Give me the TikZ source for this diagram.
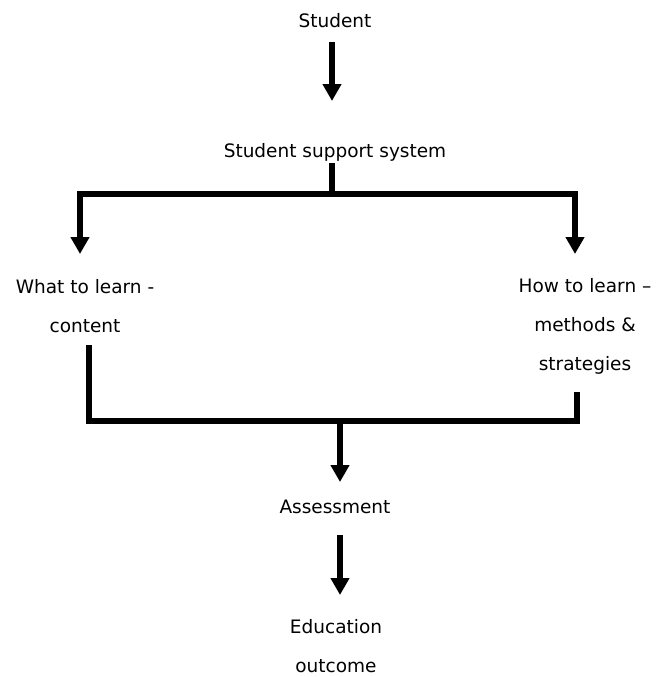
\documentclass[tikz,border=0pt]{standalone}
\usepackage{fontspec}
\setmainfont{DejaVu Sans}
\usetikzlibrary{arrows.meta}
\begin{document}
\begin{tikzpicture}[x=1pt,y=-1pt,
  label/.style={font=\fontsize{18.5}{39}\selectfont, align=center, inner sep=0pt, anchor=base},
  bar/.style={line width=6pt, line join=miter},
  arr/.style={bar, -{Triangle[width=18pt,length=17pt]}}]
  \useasboundingbox (0,0) rectangle (660,677);

  % labels (placed by the baseline of their last line)
  \node[label] (student) at (335,28)  {Student};
  \node[label] (ssys)    at (335,157) {Student support system};
  \node[label] (what)    at (85,332)  {What to learn -\\content};
  \node[label] (how)     at (585,370) {How to learn –\\methods \&\\strategies};
  \node[label] (assess)  at (335,513) {Assessment};
  \node[label] (edu)     at (336,672) {Education\\outcome};

  % connector end points
  \coordinate (s-out)   at (332,42);
  \coordinate (s-in)    at (332,101);
  \coordinate (sys-out) at (332,163);
  \coordinate (split)   at (332,194);
  \coordinate (what-in) at (80,254);
  \coordinate (how-in)  at (575,254);
  \coordinate (what-out) at (89,345);
  \coordinate (how-out)  at (577,392);
  \coordinate (join)     at (340,421);
  \coordinate (a-in)     at (340,482);
  \coordinate (a-out)    at (340,535);
  \coordinate (e-in)     at (340,595);

  % flow
  \draw[arr] (s-out) -- (s-in);
  \draw[bar] (sys-out) -- (split);
  \draw[arr] (split) -| (what-in);
  \draw[arr] (split) -| (how-in);
  \draw[bar] (what-out) |- (join) -| (how-out);
  \draw[arr] (join) -- (a-in);
  \draw[arr] (a-out) -- (e-in);
\end{tikzpicture}
\end{document}
